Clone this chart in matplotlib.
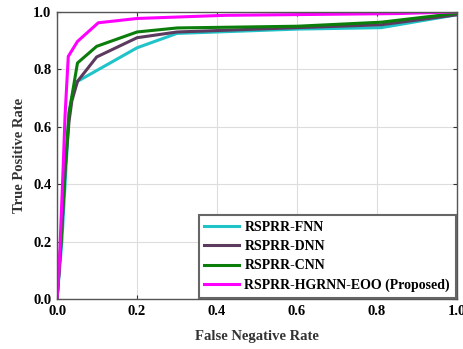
import matplotlib
matplotlib.use("Agg")
import matplotlib.pyplot as plt

# ROC points
fnn_x = [0, 0.012, 0.022, 0.03, 0.04, 0.051, 0.2, 0.3, 0.6, 0.81, 1.0]
fnn_y = [0, 0.2, 0.45, 0.65, 0.72, 0.758, 0.875, 0.925, 0.94, 0.945, 0.99]
dnn_x = [0, 0.01, 0.02, 0.03, 0.037, 0.051, 0.099, 0.2, 0.3, 0.6, 0.81, 1.0]
dnn_y = [0, 0.2, 0.45, 0.62, 0.69, 0.758, 0.843, 0.91, 0.93, 0.945, 0.955, 0.99]
cnn_x = [0, 0.01, 0.02, 0.03, 0.037, 0.051, 0.099, 0.2, 0.3, 0.6, 0.81, 1.0]
cnn_y = [0, 0.2, 0.45, 0.65, 0.706, 0.822, 0.88, 0.93, 0.944, 0.95, 0.964, 0.995]
eoo_x = [0, 0.005, 0.015, 0.02, 0.028, 0.051, 0.103, 0.2, 0.42, 0.85, 1.0]
eoo_y = [0, 0.1, 0.45, 0.64, 0.845, 0.897, 0.962, 0.977, 0.988, 0.994, 1.0]

labels = ["RSPRR-FNN", "RSPRR-DNN", "RSPRR-CNN", "RSPRR-HGRNN-EOO (Proposed)"]
colors = ["#1fc3c8", "#5b3a5e", "#0a7d0a", "#ff00ff"]
ticks = [0.0, 0.2, 0.4, 0.6, 0.8, 1.0]

plt.rcParams["font.family"] = "Liberation Serif"
plt.rcParams["font.weight"] = "bold"

fig = plt.figure(figsize=(4.64, 3.49), dpi=100)
ax = fig.add_axes([0.123, 0.143, 0.862, 0.823])

series = [(fnn_x, fnn_y), (dnn_x, dnn_y), (cnn_x, cnn_y), (eoo_x, eoo_y)]
for (xs, ys), lab, col in zip(series, labels, colors):
    ax.plot(xs, ys, color=col, lw=2.2, label=lab)

ax.set_xlim(0, 1)
ax.set_ylim(0, 1)
ax.set_xticks(ticks)
ax.set_yticks(ticks)
ax.set_xticklabels(["{:.1f}".format(t) for t in ticks], fontsize=10.5, fontweight="bold")
ax.set_yticklabels(["{:.1f}".format(t) for t in ticks], fontsize=10.5, fontweight="bold")
ax.tick_params(direction="in", top=True, right=True, length=3, color="#333333", pad=4)
ax.grid(True, color="#dddddd", lw=0.8)
for s in ax.spines.values():
    s.set_color("#555555")
    s.set_linewidth(1.0)

ax.set_xlabel("False Negative Rate", fontsize=10.5, fontweight="bold", color="#333333", labelpad=9)
ax.set_ylabel("True Positive Rate", fontsize=10.5, fontweight="bold", color="#333333", labelpad=5)

leg = ax.legend(loc="lower right", fancybox=False, framealpha=1,
                edgecolor="#666666", handlelength=2.5, handletextpad=0.4,
                borderaxespad=0.1, labelspacing=0.45,
                prop={"weight": "bold", "size": 10})
leg.get_frame().set_linewidth(1.5)

fig.savefig("out.png", dpi=100)
